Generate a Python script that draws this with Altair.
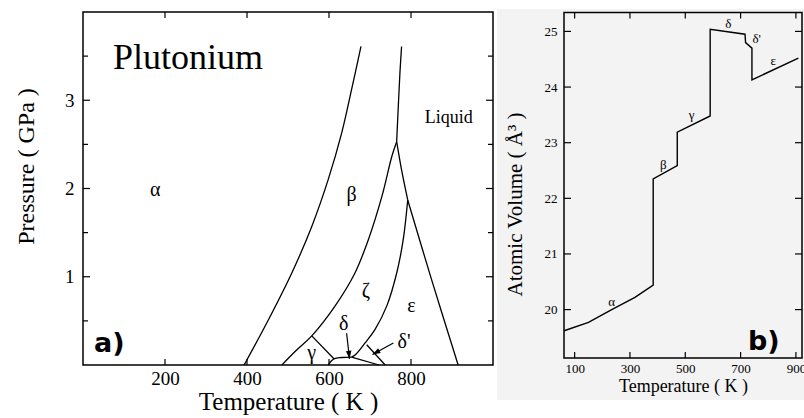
import altair as alt
import pandas as pd

SERIF = "Liberation Serif"
SANS = "DejaVu Sans"

# ---------------- panel a: Pu phase diagram (T in K, P in GPa) ----------------
a_T_domain = [0, 1000]
a_P_domain = [0, 4]

ab_T = [393, 452, 509, 558, 598, 631, 655, 678]          # alpha / beta
ab_P = [0.0, 0.51, 1.04, 1.57, 2.10, 2.63, 3.12, 3.61]
bz_T = [485, 521, 558, 615, 663, 696, 729, 753, 765]     # gamma|zeta / beta
bz_P = [0.0, 0.17, 0.33, 0.67, 1.04, 1.42, 1.91, 2.36, 2.53]
bl_T = [765, 769, 773, 777]                              # beta / liquid
bl_P = [2.53, 2.93, 3.31, 3.61]
zl_T = [765, 777, 792]                                   # zeta / liquid
zl_P = [2.53, 2.21, 1.87]
el_T = [792, 850, 915]                                   # epsilon / liquid
el_P = [1.87, 0.97, 0.0]
ze_T = [792, 781, 765, 741, 712, 688, 665, 655]          # zeta / epsilon
ze_P = [1.87, 1.42, 1.04, 0.67, 0.40, 0.25, 0.12, 0.09]
gd_T = [558, 612]                                        # gamma / delta
gd_P = [0.33, 0.07]
db_T = [598, 612, 632, 655]                              # delta lower boundary
db_P = [0.0, 0.07, 0.085, 0.09]
dd_T = [655, 722]                                        # delta / delta'
dd_P = [0.09, 0.0]
de_T = [692, 737]                                        # delta' / epsilon
de_P = [0.23, 0.0]

arrow_delta_T = [643, 650]
arrow_delta_P = [0.36, 0.07]
arrow_dprime_T = [757, 706]
arrow_dprime_P = [0.25, 0.12]

phase_names = ["α", "β", "ζ", "ε", "γ", "δ", "δ'"]
phase_T = [176, 655, 690, 801, 558, 636, 783]
phase_P = [1.98, 1.93, 0.84, 0.67, 0.14, 0.46, 0.26]
liquid_T = [892]
liquid_P = [2.80]

a_xticks = [200, 400, 600, 800]
a_yticks_major = [1, 2, 3]
a_yticks_minor = [0.5, 1.5, 2.5, 3.5]

# ---------------- panel b: atomic volume vs temperature ----------------
b_T_domain = [61.5, 922]
b_V_domain = [19.13, 25.34]

vol_T = [62, 150, 234, 318, 384, 384, 471, 471, 590, 590, 716, 718, 741, 741, 909]
vol_V = [19.62, 19.77, 20.0, 20.22, 20.44, 22.35, 22.59, 23.19, 23.48, 25.04, 24.95, 24.80, 24.70, 24.13, 24.52]

b_names = ["α", "β", "γ", "δ", "δ'", "ε"]
b_T = [234, 421, 523, 656, 758, 818]
b_V = [20.13, 22.60, 23.50, 25.14, 24.86, 24.46]

b_xticks = [100, 300, 500, 700, 900]
b_yticks = [20, 21, 22, 23, 24, 25]

# ---------------- scales (pixel layout) ----------------
def xa():
    return alt.Scale(domain=a_T_domain, range=[0, 410], nice=False, zero=False)

def ya():
    return alt.Scale(domain=a_P_domain, range=[353, 0], nice=False, zero=False)

def xb():
    return alt.Scale(domain=b_T_domain, range=[481, 719], nice=False, zero=False)

def yb():
    return alt.Scale(domain=b_V_domain, range=[346, 0.5], nice=False, zero=False)


def curves_df(curves):
    rows = []
    for name, (ts, ps) in curves.items():
        for i, (t, p) in enumerate(zip(ts, ps)):
            rows.append({"curve": name, "i": i, "T": t, "P": p})
    return pd.DataFrame(rows)


df_a = curves_df({
    "ab": (ab_T, ab_P), "bz": (bz_T, bz_P), "bl": (bl_T, bl_P), "zl": (zl_T, zl_P),
    "el": (el_T, el_P), "ze": (ze_T, ze_P), "gd": (gd_T, gd_P), "db": (db_T, db_P),
    "dd": (dd_T, dd_P), "de": (de_T, de_P),
})
df_arrows = curves_df({"d": (arrow_delta_T, arrow_delta_P), "dp": (arrow_dprime_T, arrow_dprime_P)})

axis_ax = alt.Axis(orient="bottom", values=a_xticks, ticks=False, domain=False, grid=False,
                   labelFont=SERIF, labelFontSize=19, labelColor="black", labelPadding=4, labelFlush=False,
                   title="Temperature ( K )", titleFont=SERIF, titleFontSize=25, titleFontWeight="normal",
                   titleColor="black", titlePadding=1)
axis_ay = alt.Axis(orient="left", values=a_yticks_major, ticks=False, domain=False, grid=False,
                   labelFont=SERIF, labelFontSize=19, labelColor="black", labelPadding=9, labelFlush=False,
                   title="Pressure ( GPa )", titleFont=SERIF, titleFontSize=24, titleFontWeight="normal",
                   titleColor="black", titlePadding=26, titleY=154)

frame_a = alt.Chart(pd.DataFrame({"x1": [a_T_domain[0]], "x2": [a_T_domain[1]],
                                  "y1": [a_P_domain[0]], "y2": [a_P_domain[1]]})).mark_rect(
    fillOpacity=0, stroke="black", strokeWidth=1.5).encode(
    x=alt.X("x1:Q", scale=xa(), axis=None), x2="x2:Q",
    y=alt.Y("y1:Q", scale=ya(), axis=None), y2="y2:Q")

tick_rule = dict(color="black", strokeWidth=1.2)
ta_bottom = alt.Chart(pd.DataFrame({"T": a_xticks})).mark_rule(**tick_rule).encode(
    x=alt.X("T:Q", scale=xa(), axis=None), y=alt.value(353), y2=alt.value(347))
ta_top = alt.Chart(pd.DataFrame({"T": a_xticks})).mark_rule(**tick_rule).encode(
    x=alt.X("T:Q", scale=xa(), axis=None), y=alt.value(0), y2=alt.value(6))
ta_left = alt.Chart(pd.DataFrame({"P": a_yticks_major})).mark_rule(**tick_rule).encode(
    y=alt.Y("P:Q", scale=ya(), axis=None), x=alt.value(0), x2=alt.value(7))
ta_left_m = alt.Chart(pd.DataFrame({"P": a_yticks_minor})).mark_rule(**tick_rule).encode(
    y=alt.Y("P:Q", scale=ya(), axis=None), x=alt.value(0), x2=alt.value(5))
ta_right = alt.Chart(pd.DataFrame({"P": a_yticks_major})).mark_rule(**tick_rule).encode(
    y=alt.Y("P:Q", scale=ya(), axis=None), x=alt.value(410), x2=alt.value(403))
ta_right_m = alt.Chart(pd.DataFrame({"P": a_yticks_minor})).mark_rule(**tick_rule).encode(
    y=alt.Y("P:Q", scale=ya(), axis=None), x=alt.value(410), x2=alt.value(405))

lines_a = alt.Chart(df_a).mark_line(color="black", strokeWidth=1.3, interpolate="catmull-rom").encode(
    x=alt.X("T:Q", scale=xa(), axis=axis_ax),
    y=alt.Y("P:Q", scale=ya(), axis=axis_ay),
    detail="curve:N", order="i:Q")

arrows_a = alt.Chart(df_arrows).mark_line(color="black", strokeWidth=1.2).encode(
    x=alt.X("T:Q", scale=xa(), axis=None), y=alt.Y("P:Q", scale=ya(), axis=None),
    detail="curve:N", order="i:Q")
head_path = "M0,0L-0.45,1.3L0.45,1.3Z"
head_d = alt.Chart(pd.DataFrame({"T": [arrow_delta_T[-1]], "P": [arrow_delta_P[-1]]})).mark_point(
    shape=head_path, filled=True, color="black", size=150, angle=174, opacity=1).encode(
    x=alt.X("T:Q", scale=xa(), axis=None), y=alt.Y("P:Q", scale=ya(), axis=None))
head_dp = alt.Chart(pd.DataFrame({"T": [arrow_dprime_T[-1]], "P": [arrow_dprime_P[-1]]})).mark_point(
    shape=head_path, filled=True, color="black", size=150, angle=241, opacity=1).encode(
    x=alt.X("T:Q", scale=xa(), axis=None), y=alt.Y("P:Q", scale=ya(), axis=None))

labels_a = alt.Chart(pd.DataFrame({"name": phase_names, "T": phase_T, "P": phase_P})).mark_text(
    font=SERIF, fontSize=20, color="black").encode(
    x=alt.X("T:Q", scale=xa(), axis=None), y=alt.Y("P:Q", scale=ya(), axis=None), text="name:N")
liquid_a = alt.Chart(pd.DataFrame({"name": ["Liquid"], "T": liquid_T, "P": liquid_P})).mark_text(
    font=SERIF, fontSize=18, color="black").encode(
    x=alt.X("T:Q", scale=xa(), axis=None), y=alt.Y("P:Q", scale=ya(), axis=None), text="name:N")

title_a = alt.Chart(pd.DataFrame({"t": ["Plutonium"]})).mark_text(
    font=SERIF, fontSize=36, color="black", align="center", baseline="alphabetic").encode(
    x=alt.value(105), y=alt.value(57), text="t:N")
tag_a = alt.Chart(pd.DataFrame({"t": ["a)"]})).mark_text(
    font=SANS, fontSize=27, fontWeight="bold", color="black", align="left", baseline="middle").encode(
    x=alt.value(11), y=alt.value(332), text="t:N")

# ---------------- panel b ----------------
axis_bx = alt.Axis(orient="bottom", offset=-7, values=b_xticks, ticks=False, domain=False,
                   grid=False, labelFont=SERIF, labelFontSize=13, labelColor="black", labelPadding=4,
                   labelFlush=False, labelOverlap=False,
                   title="Temperature ( K )", titleFont=SERIF, titleFontSize=18, titleFontWeight="normal",
                   titleColor="black", titlePadding=2, zindex=1)
axis_by = alt.Axis(orient="left", offset=-481, values=b_yticks, ticks=False, domain=False,
                   grid=False, labelFont=SERIF, labelFontSize=13, labelColor="black", labelPadding=7,
                   labelFlush=False, labelOverlap=False,
                   title="Atomic Volume ( Å³ )", titleFont=SERIF, titleFontSize=21, titleFontWeight="normal",
                   titleColor="black", titlePadding=19, titleY=192, zindex=1)

bg_b = alt.Chart(pd.DataFrame({"t": [0]})).mark_rect(color="#f3f3f3").encode(
    x=alt.value(414), x2=alt.value(722), y=alt.value(-3), y2=alt.value(388))

frame_b = alt.Chart(pd.DataFrame({"x1": [b_T_domain[0]], "x2": [b_T_domain[1]],
                                  "y1": [b_V_domain[0]], "y2": [b_V_domain[1]]})).mark_rect(
    fillOpacity=0, stroke="black", strokeWidth=1.5).encode(
    x=alt.X("x1:Q", scale=xb(), axis=None), x2="x2:Q",
    y=alt.Y("y1:Q", scale=yb(), axis=None), y2="y2:Q")

tb_bottom = alt.Chart(pd.DataFrame({"T": b_xticks})).mark_rule(**tick_rule).encode(
    x=alt.X("T:Q", scale=xb(), axis=None), y=alt.value(346), y2=alt.value(340))
tb_top = alt.Chart(pd.DataFrame({"T": b_xticks})).mark_rule(**tick_rule).encode(
    x=alt.X("T:Q", scale=xb(), axis=None), y=alt.value(0.5), y2=alt.value(6.5))
tb_left = alt.Chart(pd.DataFrame({"V": b_yticks})).mark_rule(**tick_rule).encode(
    y=alt.Y("V:Q", scale=yb(), axis=None), x=alt.value(481), x2=alt.value(488))
tb_right = alt.Chart(pd.DataFrame({"V": b_yticks})).mark_rule(**tick_rule).encode(
    y=alt.Y("V:Q", scale=yb(), axis=None), x=alt.value(719), x2=alt.value(712))

line_b = alt.Chart(pd.DataFrame({"i": list(range(len(vol_T))), "T": vol_T, "V": vol_V})).mark_line(
    color="black", strokeWidth=1.4).encode(
    x=alt.X("T:Q", scale=xb(), axis=axis_bx), y=alt.Y("V:Q", scale=yb(), axis=axis_by), order="i:Q")

labels_b = alt.Chart(pd.DataFrame({"name": b_names, "T": b_T, "V": b_V})).mark_text(
    font=SERIF, fontSize=13, color="black").encode(
    x=alt.X("T:Q", scale=xb(), axis=None), y=alt.Y("V:Q", scale=yb(), axis=None), text="name:N")

tag_b = alt.Chart(pd.DataFrame({"t": ["b)"]})).mark_text(
    font=SANS, fontSize=27, fontWeight="bold", color="black", align="left", baseline="middle").encode(
    x=alt.value(665), y=alt.value(330), text="t:N")

chart = alt.layer(
    bg_b,
    frame_a, ta_bottom, ta_top, ta_left, ta_left_m, ta_right, ta_right_m,
    lines_a, arrows_a, head_d, head_dp, labels_a, liquid_a, title_a, tag_a,
    frame_b, tb_bottom, tb_top, tb_left, tb_right, line_b, labels_b, tag_b,
).resolve_scale(
    x="independent", y="independent").resolve_axis(
    x="independent", y="independent").properties(
    width=410, height=353,
    padding={"left": 83, "top": 12, "right": 311, "bottom": 53},
    autosize=alt.AutoSizeParams(type="none"),
    background="white",
).configure_view(stroke=None)

chart.save("out.html", embed_options={"renderer": "svg", "actions": False})
